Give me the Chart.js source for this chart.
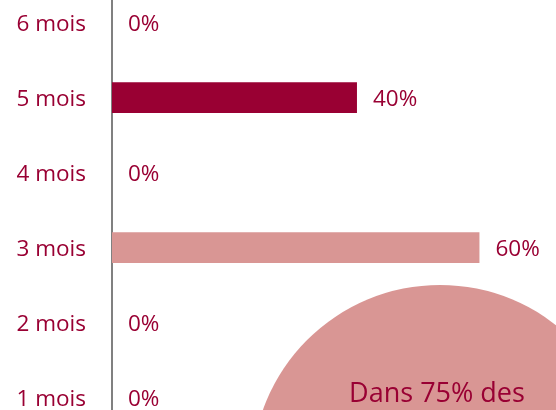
<!DOCTYPE html>
<html>
<head>
<meta charset="utf-8">
<script src="https://cdn.jsdelivr.net/npm/chart.js@4"></script>
<style>
  html, body { margin: 0; padding: 0; background: #fff; overflow: hidden; }
  #page { position: relative; width: 556px; height: 410px; overflow: hidden; }
  #myChart { position: absolute; left: 0; top: -15px; }
  #bubble { position: absolute; left: 252px; top: 285px; width: 376px; height: 376px;
    border-radius: 50%; background: #D99694; }
  #bubbleText { position: absolute; left: 287px; top: 378px; width: 300px; text-align: center;
    font-family: 'Open Sans', sans-serif; font-size: 27px; line-height: 27px; color: #990033;
    white-space: nowrap; }
</style>
</head>
<body>
<div id="page">
  <canvas id="myChart" width="556" height="450"></canvas>
  <div id="bubble"></div>
  <div id="bubbleText">Dans 75% des</div>
</div>
<script>
'use strict'
const categories = ['6 mois', '5 mois', '4 mois', '3 mois', '2 mois', '1 mois'];
const shareValues = [0, 40, 0, 60, 0, 0];
const barColors = ['#990033', '#990033', '#990033', '#D99694', '#990033', '#990033'];
const textColor = '#990033';
const labelFont = { family: "'Open Sans', sans-serif", size: 22.5 };

// draws "40%" etc. just to the right of each bar
const valueLabels = {
  id: 'valueLabels',
  afterDatasetsDraw(chart) {
    const ctx = chart.ctx;
    const meta = chart.getDatasetMeta(0);
    ctx.save();
    ctx.font = `${labelFont.size}px ${labelFont.family}`;
    ctx.fillStyle = textColor;
    ctx.textAlign = 'left';
    ctx.textBaseline = 'middle';
    meta.data.forEach(function (bar, i) {
      ctx.fillText(`${shareValues[i]}%`, bar.x + 16, bar.y + 2);
    });
    ctx.restore();
  }
};

const ctx = document.getElementById('myChart').getContext('2d');
const myChart = new Chart(ctx, {
  type: 'bar',
  data: {
    labels: categories,
    datasets: [{
      data: shareValues,
      backgroundColor: barColors,
      borderWidth: 0,
      barPercentage: 0.41,
      categoryPercentage: 1
    }]
  },
  options: {
    indexAxis: 'y',
    responsive: false,
    animation: false,
    layout: { padding: 0 },
    plugins: {
      legend: { display: false },
      tooltip: { enabled: false }
    },
    scales: {
      x: {
        display: false,
        min: 0,
        max: 72.5
      },
      y: {
        // fixed axis width, and no extra room above/below for the labels
        afterFit: function (scale) {
          scale.width = 112;
          scale.paddingTop = 0;
          scale.paddingBottom = 0;
        },
        grid: { display: false, drawTicks: false },
        border: { display: true, color: '#808080', width: 2 },
        ticks: {
          color: textColor,
          font: labelFont,
          padding: 26,
          labelOffset: 2
        }
      }
    }
  },
  plugins: [valueLabels]
});
</script>
</body>
</html>
